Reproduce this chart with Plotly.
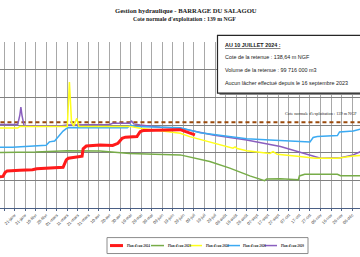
import plotly.graph_objects as go

# ---------------- data (levels in m NGF, plotted on a common calendar) ----------------
dates_2024 = ["2024-01-01","2024-01-10","2024-01-12","2024-01-14","2024-01-26","2024-02-07",
              "2024-02-11","2024-03-07","2024-03-10","2024-03-12","2024-03-25","2024-03-26",
              "2024-03-29","2024-04-11","2024-04-23","2024-04-28","2024-05-02","2024-05-05",
              "2024-05-16","2024-05-19","2024-05-22","2024-06-07","2024-06-26","2024-07-10"]
level_2024 = [137.10,137.14,137.28,137.34,137.36,137.38,
              137.42,137.47,137.74,137.80,137.87,138.14,
              138.24,138.28,138.26,138.34,138.52,138.56,
              138.58,138.76,138.80,138.82,138.83,138.64]

dates_2023 = ["2024-01-01","2024-02-10","2024-03-11","2024-04-11","2024-05-09","2024-06-26",
              "2024-07-24","2024-08-12","2024-08-31","2024-09-12","2024-09-14","2024-09-16",
              "2024-09-29","2024-10-16","2024-10-17","2024-10-22","2024-11-22","2024-11-25","2024-12-31"]
level_2023 = [138.00,138.02,138.07,138.06,137.97,137.92,
              137.68,137.44,137.16,137.02,136.99,137.05,
              137.06,137.02,137.16,137.22,137.22,137.17,137.17]

dates_2022 = ["2024-01-01","2024-01-24","2024-01-26","2024-03-11","2024-03-13","2024-03-15",
              "2024-03-17","2024-03-20","2024-03-22","2024-05-09","2024-05-19","2024-06-07",
              "2024-06-26","2024-07-05","2024-07-27","2024-08-15","2024-08-17","2024-08-19",
              "2024-08-28","2024-09-19","2024-09-22","2024-09-26","2024-10-15","2024-11-01",
              "2024-11-22","2024-12-07","2024-12-31"]
level_2022 = [138.89,138.89,138.95,138.95,140.55,139.11,
              138.96,139.24,138.95,138.95,138.88,138.80,
              138.70,138.58,138.34,138.16,138.21,138.15,
              138.07,137.97,138.04,137.94,137.87,137.80,
              137.80,137.88,137.95]

dates_2021 = ["2024-01-01","2024-01-19","2024-02-20","2024-02-23","2024-02-28","2024-03-02",
              "2024-03-05","2024-03-07","2024-03-10","2024-03-12","2024-05-07","2024-05-10",
              "2024-05-14","2024-06-26","2024-07-15","2024-08-09","2024-08-28","2024-09-19",
              "2024-10-08","2024-10-27","2024-10-30","2024-11-03","2024-11-22","2024-11-24",
              "2024-12-07","2024-12-14","2024-12-31"]
level_2021 = [138.20,138.20,138.27,138.39,138.42,138.57,
              138.68,138.78,138.87,138.91,138.90,139.00,
              138.95,138.90,138.72,138.58,138.50,138.46,
              138.43,138.39,138.55,138.58,138.62,138.75,
              138.78,138.85,138.88]

dates_2020 = ["2024-01-01","2024-01-24","2024-01-26","2024-01-27","2024-01-28","2024-01-30",
              "2024-03-04","2024-03-11","2024-04-20","2024-04-23","2024-05-09","2024-05-11",
              "2024-05-13","2024-05-19","2024-06-07","2024-06-26","2024-07-27","2024-08-28",
              "2024-09-29","2024-10-30","2024-11-06","2024-11-25","2024-12-07","2024-12-14","2024-12-31"]
level_2020 = [139.02,139.02,139.36,139.65,139.36,138.98,
              138.96,139.00,139.02,139.06,139.06,139.14,
              139.04,139.00,138.92,138.88,138.64,138.46,
              138.22,137.86,137.80,137.82,137.92,138.04,138.15]

# dashed "cote normale" line, as drawn on the picture
cote_dates = ["2024-01-01","2024-12-31"]
cote_normale = [139.1, 139.1]

tick_dates = ["2024-01-01","2024-01-11","2024-01-21","2024-01-31","2024-02-10","2024-02-20",
              "2024-03-01","2024-03-11","2024-03-21","2024-03-31","2024-04-10","2024-04-20",
              "2024-04-30","2024-05-10","2024-05-20","2024-05-30","2024-06-09","2024-06-19",
              "2024-06-29","2024-07-09","2024-07-19","2024-07-29","2024-08-08","2024-08-18",
              "2024-08-28","2024-09-07","2024-09-17","2024-09-27","2024-10-07","2024-10-17",
              "2024-10-27","2024-11-06","2024-11-16","2024-11-26","2024-12-06","2024-12-16","2024-12-26"]
tick_labels = ["01-janv","11-janv","21-janv","31-janv","10-févr","20-févr",
               "01-mars","11-mars","21-mars","31-mars","10-avr","20-avr",
               "30-avr","10-mai","20-mai","30-mai","09-juin","19-juin",
               "29-juin","09-juil","19-juil","29-juil","08-août","18-août",
               "28-août","07-sept","17-sept","27-sept","07-oct","17-oct",
               "27-oct","06-nov","16-nov","26-nov","06-déc","16-déc","26-déc"]

series_names = ["Plan d'eau 2024","Plan d'eau 2023","Plan d'eau 2022","Plan d'eau 2021","Plan d'eau 2020"]
series_colors = ["#FF1A1A","#77AC48","#FFFF1A","#3BAAF2","#8A5FBF"]
series_widths = [3, 1.5, 1.5, 1.5, 1.5]

title1 = "Gestion hydraulique - BARRAGE DU SALAGOU"
title2 = "Cote normale d'exploitation : 139 m NGF"
box_lines = ["<b><u>AU 10 JUILLET 2024 :</u></b>",
             "Cote de la retenue : 138,64 m NGF",
             "Volume de la retenue : 99 716 000 m3",
             "Aucun lâcher effectué depuis le 16 septembre 2023"]
cote_label = "Cote normale d'exploitation : 139 m NGF"

# ---------------- layout geometry ----------------
W, H = 360, 257
T, B = 41.7, 208.3


def py(p):
    return (B - p) / (B - T)


def pxx(p):
    return p / W


fig = go.Figure()

fig.add_trace(go.Scatter(x=cote_dates, y=cote_normale, mode="lines",
                         line=dict(color="#9A4A0C", width=2, dash="4px,3px"),
                         showlegend=False, hoverinfo="skip"))

all_series = [(dates_2020, level_2020, 4), (dates_2021, level_2021, 3), (dates_2022, level_2022, 2),
              (dates_2023, level_2023, 1), (dates_2024, level_2024, 0)]
for d, v, i in all_series:
    fig.add_trace(go.Scatter(x=d, y=v, mode="lines", name=series_names[i],
                             line=dict(color=series_colors[i], width=series_widths[i]),
                             showlegend=False))

shapes = []
annotations = []

# info box with shadow
shapes.append(dict(type="rect", xref="paper", yref="paper",
                   x0=pxx(219.5), x1=pxx(380), y0=py(95), y1=py(37),
                   fillcolor="#8c8c8c", line=dict(width=0), layer="above"))
shapes.append(dict(type="rect", xref="paper", yref="paper",
                   x0=pxx(217.5), x1=pxx(378), y0=py(93), y1=py(35),
                   fillcolor="white", line=dict(color="#262626", width=1.2), layer="above"))
for txt, yy in zip(box_lines, [44.5, 57, 70, 82.7]):
    annotations.append(dict(text=txt, xref="paper", yref="paper", x=pxx(223), y=py(yy),
                            xanchor="left", yanchor="middle", showarrow=False,
                            font=dict(family="Liberation Sans", size=5.4, color="#1a1a1a")))

# titles
annotations.append(dict(text="<b>" + title1 + "</b>", xref="paper", yref="paper", x=pxx(186), y=py(10),
                        xanchor="center", yanchor="middle", showarrow=False,
                        font=dict(family="Liberation Serif", size=6.6, color="#1a1a1a")))
annotations.append(dict(text="<b>" + title2 + "</b>", xref="paper", yref="paper", x=pxx(184), y=py(18.5),
                        xanchor="center", yanchor="middle", showarrow=False,
                        font=dict(family="Liberation Serif", size=5.8, color="#1a1a1a")))

# label of the reference line
annotations.append(dict(text=cote_label, xref="paper", yref="paper", x=pxx(283), y=py(113.5),
                        xanchor="left", yanchor="middle", showarrow=False,
                        font=dict(family="Liberation Serif", size=4.3, color="#262626")))

# legend (drawn manually to match the compact original)
shapes.append(dict(type="rect", xref="paper", yref="paper",
                   x0=pxx(107), x1=pxx(308), y0=py(254), y1=py(238),
                   fillcolor="white", line=dict(color="#8c8c8c", width=1)))
leg_x = [110, 151, 189, 227, 264]
for i, lx in enumerate(leg_x):
    shapes.append(dict(type="line", xref="paper", yref="paper",
                       x0=pxx(lx), x1=pxx(lx + 13), y0=py(246), y1=py(246),
                       line=dict(color=series_colors[i], width=series_widths[i] if i == 0 else 1.5)))
    annotations.append(dict(text="<b>" + series_names[i] + "</b>", xref="paper", yref="paper",
                            x=pxx(lx + 14.5), y=py(246), xanchor="left", yanchor="middle",
                            showarrow=False,
                            font=dict(family="Liberation Serif", size=3.4, color="#262626")))

fig.update_layout(
    width=W, height=H,
    margin=dict(l=0, r=0, t=T, b=H - B, pad=0),
    paper_bgcolor="white", plot_bgcolor="white",
    showlegend=False,
    shapes=shapes, annotations=annotations,
    xaxis=dict(type="date", range=["2024-01-07 05:00", "2024-12-13 10:00"],
               tickmode="array", tickvals=tick_dates, ticktext=tick_labels,
               tickangle=-45, tickfont=dict(family="Liberation Sans", size=4.2, color="#404040"),
               showgrid=True, gridcolor="#a8a8a8", gridwidth=1,
               showline=True, linecolor="#4a5f85", linewidth=1,
               ticks="outside", ticklen=2, tickcolor="#4a5f85",
               zeroline=False),
    yaxis=dict(range=[136, 142], tickmode="array", tickvals=[137, 138, 139, 140, 141],
               showticklabels=False, showgrid=True, gridcolor="#808080", gridwidth=1,
               zeroline=False, showline=False),
)

fig.write_html("out.html")
